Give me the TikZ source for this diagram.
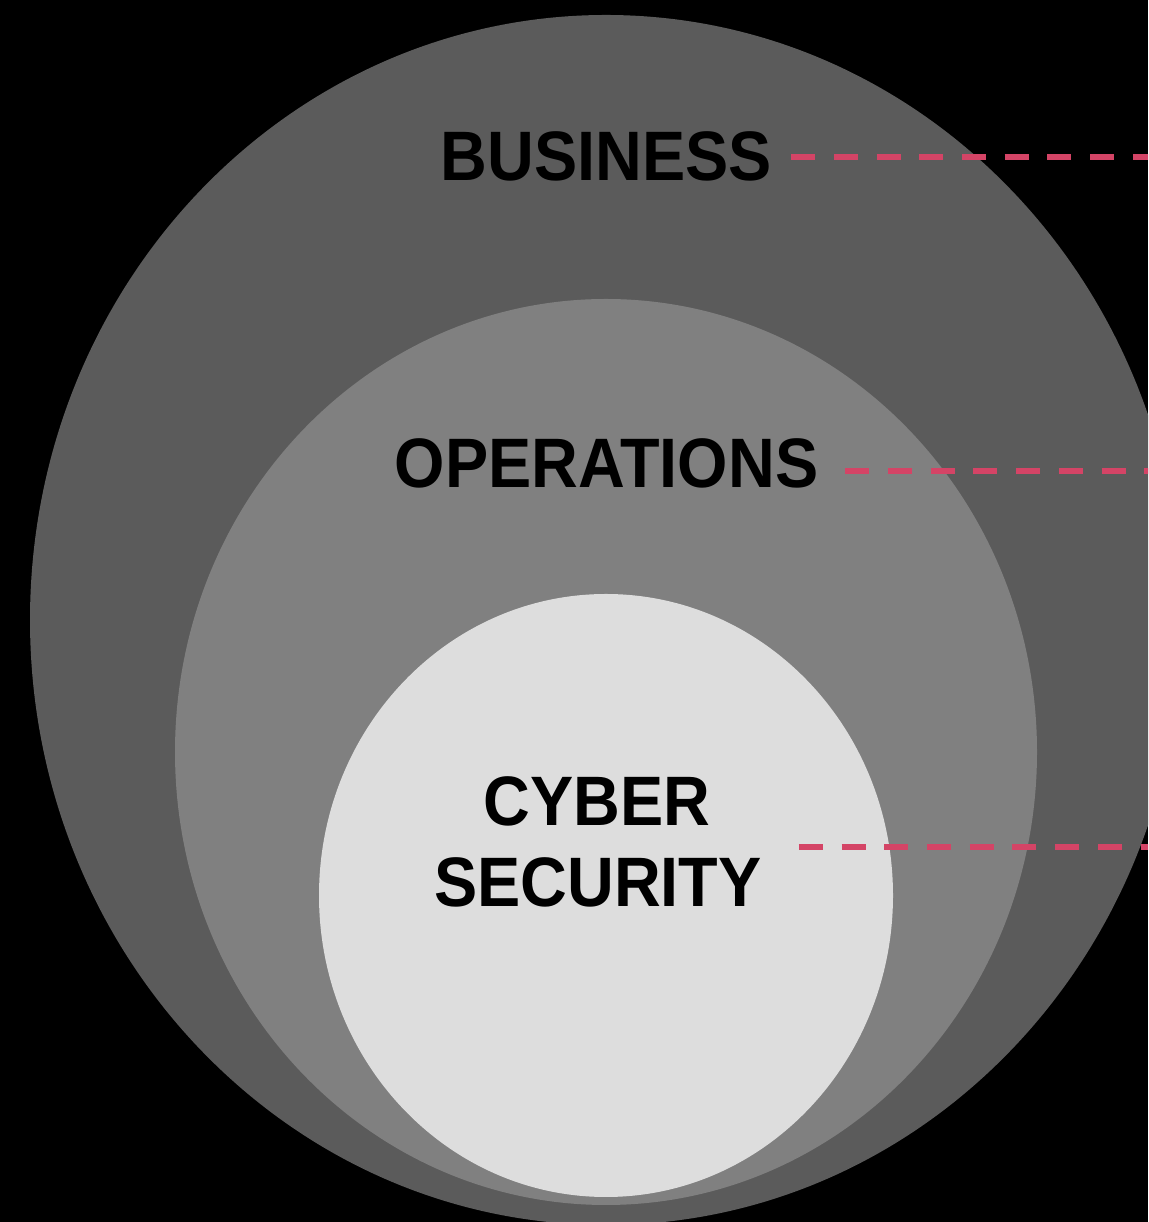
\documentclass[tikz,border=0pt]{standalone}
\usepackage{fontspec}
\usepackage{tikz}
\newfontfamily\ringfont{Liberation Sans}[FakeStretch=0.925]
\definecolor{outerring}{RGB}{91,91,91}
\definecolor{middlering}{RGB}{128,128,128}
\definecolor{innerring}{RGB}{221,221,221}
\definecolor{leadred}{RGB}{212,68,102}

\begin{document}
\begin{tikzpicture}[x=1pt, y=1pt,
  ring/.style = {draw=none},
  label/.style = {inner sep=0pt, anchor=base, text=black, font=\ringfont\bfseries\fontsize{70}{81}\selectfont},
  leader/.style = {draw=leadred, line width=6.5pt, dash pattern=on 24pt off 18.7pt}]
\useasboundingbox (0,0) rectangle (1148,1222);
\clip (0,0) rectangle (1148,1222);
\fill[black] (0,0) rectangle (1148,1222);
\fill[ring, outerring] (606,602) ellipse [x radius=576, y radius=605];
\fill[ring, middlering] (606,470) ellipse [x radius=431, y radius=453];
\fill[ring, innerring] (606,326.5) ellipse [x radius=287, y radius=301.5];
\node[label] (busi) at (606.5,1041) {BUSINESS};
\node[label] (oper) at (606.5,734) {OPERATIONS};
\node[label] (cyb) at (597,396) {CYBER};
\node[label] (sec) at (598,315) {SECURITY};
\coordinate (busiR) at (1160,1065);
\coordinate (operR) at (1160,751);
\coordinate (secR) at (1160,375);
\draw[leader] ([xshift=19pt]busi.east |- busiR) -- (busiR);
\draw[leader] ([xshift=27pt]oper.east |- operR) -- (operR);
\draw[leader] ([xshift=37pt]sec.east |- secR) -- (secR);
\end{tikzpicture}
\end{document}
